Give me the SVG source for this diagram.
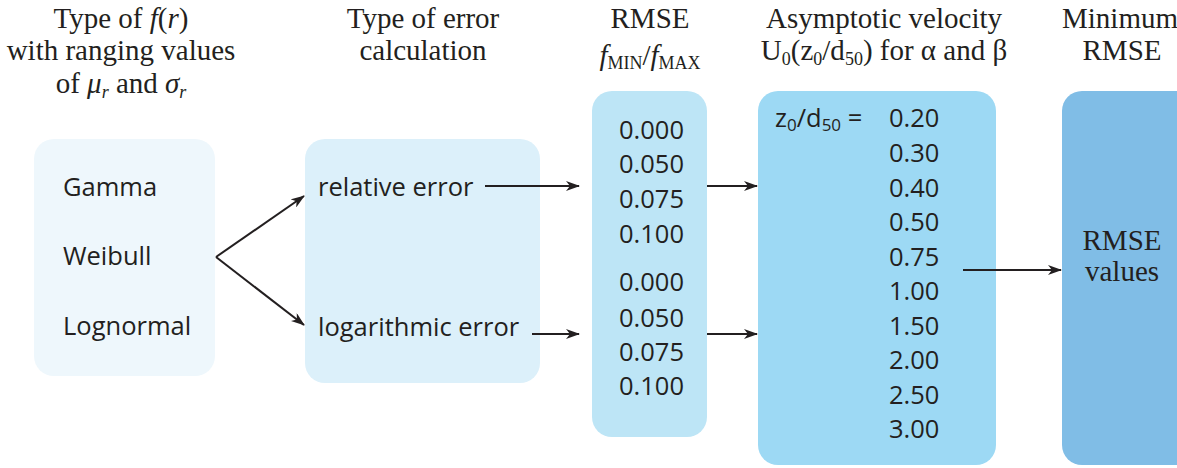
<svg xmlns="http://www.w3.org/2000/svg" width="1177" height="468" viewBox="0 0 1177 468">
<style>
.h{font-family:"Liberation Serif",serif;font-size:29px;fill:#231f20;text-anchor:middle}
.s{font-family:"Open Sans","Noto Sans",sans-serif;font-size:25.5px;fill:#231f20}
.c{stroke:#231f20;stroke-width:2;fill:none;marker-end:url(#ah)}
</style>
<defs>
<marker id="ah" markerWidth="14" markerHeight="10" refX="13" refY="5" orient="auto" markerUnits="userSpaceOnUse">
<path d="M0,0 L14,5 L0,10 L4,5 Z" fill="#231f20"/>
</marker>
</defs>
<rect width="1177" height="468" fill="#fff"/>
<g id="headers">
<text class="h" x="121" y="28">Type of <tspan font-style="italic">f</tspan>(<tspan font-style="italic">r</tspan>)</text>
<text class="h" x="121" y="60">with ranging values</text>
<text class="h" x="121" y="93">of <tspan font-style="italic">μ</tspan><tspan font-style="italic" font-size="18" dy="5">r</tspan><tspan dy="-5"> and </tspan><tspan font-style="italic">σ</tspan><tspan font-style="italic" font-size="18" dy="5">r</tspan></text>
<text class="h" x="423" y="28">Type of error</text>
<text class="h" x="423" y="60">calculation</text>
<text class="h" x="650" y="28">RMSE</text>
<text class="h" x="650" y="65"><tspan font-style="italic">f</tspan><tspan font-size="18" dy="4">MIN</tspan><tspan dy="-4">/</tspan><tspan font-style="italic">f</tspan><tspan font-size="18" dy="4">MAX</tspan></text>
<text class="h" x="884" y="28">Asymptotic velocity</text>
<text class="h" x="884" y="60">U<tspan font-size="18" dy="5">0</tspan><tspan dy="-5">(z</tspan><tspan font-size="18" dy="5">0</tspan><tspan dy="-5">/d</tspan><tspan font-size="18" dy="5">50</tspan><tspan dy="-5">) for α and β</tspan></text>
<text class="h" x="1062" y="28" style="text-anchor:start">Minimum</text>
<text class="h" x="1122" y="60">RMSE</text>
</g>
<g id="n1">
<rect x="34" y="139" width="181" height="237" rx="20" fill="#eef7fc"/>
<text class="s" x="63" y="196">Gamma</text>
<text class="s" x="63" y="265">Weibull</text>
<text class="s" x="63" y="335">Lognormal</text>
</g>
<g id="n2">
<rect x="305" y="139" width="235" height="244" rx="20" fill="#dcf0fa"/>
<text class="s" x="318" y="196">relative error</text>
<text class="s" x="318" y="336">logarithmic error</text>
</g>
<g id="n3">
<rect x="592" y="91" width="115" height="346" rx="20" fill="#bde5f6"/>
<text class="s" x="619" y="139">0.000</text>
<text class="s" x="619" y="173">0.050</text>
<text class="s" x="619" y="208">0.075</text>
<text class="s" x="619" y="243">0.100</text>
<text class="s" x="619" y="291">0.000</text>
<text class="s" x="619" y="327">0.050</text>
<text class="s" x="619" y="361">0.075</text>
<text class="s" x="619" y="395">0.100</text>
</g>
<g id="n4">
<rect x="758" y="91" width="238" height="374" rx="20" fill="#9dd9f4"/>
<text class="s" x="775" y="127">z<tspan font-size="17" dy="4">0</tspan><tspan dy="-4">/d</tspan><tspan font-size="17" dy="4">50</tspan><tspan dy="-4"> =</tspan></text>
<text class="s" x="889" y="127">0.20</text>
<text class="s" x="889" y="162">0.30</text>
<text class="s" x="889" y="197">0.40</text>
<text class="s" x="889" y="231">0.50</text>
<text class="s" x="889" y="266">0.75</text>
<text class="s" x="889" y="300">1.00</text>
<text class="s" x="889" y="335">1.50</text>
<text class="s" x="889" y="369">2.00</text>
<text class="s" x="889" y="404">2.50</text>
<text class="s" x="889" y="438">3.00</text>
</g>
<g id="n5">
<rect x="1062" y="91" width="135" height="374" rx="20" fill="#80bde6"/>
<text class="h" x="1122" y="250">RMSE</text>
<text class="h" x="1122" y="281">values</text>
</g>
<g id="connectors">
<path class="c" d="M216,257 L304,196"/>
<path class="c" d="M216,257 L304,325"/>
<path class="c" d="M485,186 L579,186"/>
<path class="c" d="M532,334 L579,334"/>
<path class="c" d="M707,186 L757,186"/>
<path class="c" d="M707,334 L757,334"/>
<path class="c" d="M963,270 L1061,270"/>
</g>
</svg>
